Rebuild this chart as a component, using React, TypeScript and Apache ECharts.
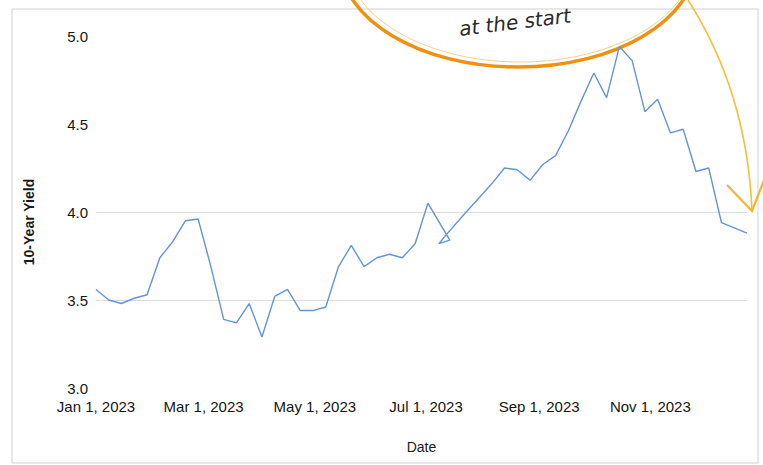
import React, { useEffect, useRef } from "react";
import * as echarts from "echarts";

const dates: string[] = [
  "2023-01-01", "2023-01-08", "2023-01-15", "2023-01-22", "2023-01-29",
  "2023-02-05", "2023-02-12", "2023-02-19", "2023-02-26", "2023-03-05",
  "2023-03-12", "2023-03-19", "2023-03-26", "2023-04-02", "2023-04-09",
  "2023-04-16", "2023-04-23", "2023-04-30", "2023-05-07", "2023-05-14",
  "2023-05-21", "2023-05-28", "2023-06-04", "2023-06-11", "2023-06-18",
  "2023-06-25", "2023-07-02", "2023-07-14", "2023-07-08", "2023-07-12",
  "2023-07-23", "2023-07-30", "2023-08-06", "2023-08-13", "2023-08-20",
  "2023-08-27", "2023-09-03", "2023-09-10", "2023-09-17", "2023-09-24",
  "2023-10-01", "2023-10-08", "2023-10-15", "2023-10-22", "2023-10-29",
  "2023-11-05", "2023-11-12", "2023-11-19", "2023-11-26", "2023-12-03",
  "2023-12-10", "2023-12-17", "2023-12-24",
];

const yields: number[] = [
  3.56, 3.5, 3.48, 3.51, 3.53,
  3.74, 3.83, 3.95, 3.96, 3.69,
  3.39, 3.37, 3.48, 3.29, 3.52,
  3.56, 3.44, 3.44, 3.46, 3.69,
  3.81, 3.69, 3.74, 3.76, 3.74,
  3.82, 4.05, 3.84, 3.82, 3.87,
  4.0, 4.08, 4.16, 4.25, 4.24,
  4.18, 4.27, 4.32, 4.46, 4.63,
  4.79, 4.65, 4.94, 4.86, 4.57,
  4.64, 4.45, 4.47, 4.23, 4.25,
  3.94, 3.91, 3.88,
];

const xTickDates: string[] = [
  "2023-01-01", "2023-03-01", "2023-05-01", "2023-07-01", "2023-09-01", "2023-11-01",
];
const monthNames: string[] = [
  "Jan", "Feb", "Mar", "Apr", "May", "Jun", "Jul", "Aug", "Sep", "Oct", "Nov", "Dec",
];
const yTicks: number[] = [3.0, 3.5, 4.0, 4.5, 5.0];

const toTs = (s: string) => {
  const [y, m, d] = s.split("-").map(Number);
  return Date.UTC(y, m - 1, d);
};
const fmtDate = (v: number) => {
  const d = new Date(v);
  return `${monthNames[d.getUTCMonth()]} ${d.getUTCDate()}, ${d.getUTCFullYear()}`;
};

export default function App() {
  const ref = useRef<HTMLDivElement>(null);
  useEffect(() => {
    if (!ref.current) return;
    const chart = echarts.init(ref.current, null, { renderer: "svg" });
    const data = dates.map((d, i) => [toTs(d), yields[i]]);
    const option: any = {
      animation: false,
      backgroundColor: "#ffffff",
      grid: { left: 96, right: 16, top: 36, bottom: 77, containLabel: false },
      xAxis: {
        type: "value",
        min: toTs(dates[0]),
        max: toTs(dates[dates.length - 1]),
        name: "Date",
        nameLocation: "middle",
        nameGap: 52,
        nameTextStyle: { fontFamily: "Arial, Liberation Sans", fontSize: 14, color: "#1a1a1a" },
        axisLine: { show: false },
        axisTick: { show: false },
        splitLine: { show: false },
        axisLabel: {
          customValues: xTickDates.map(toTs),
          formatter: (v: number) => fmtDate(v),
          fontFamily: "Arial, Liberation Sans",
          fontSize: 15,
          color: "#151515",
          margin: 11,
          hideOverlap: false,
        },
      },
      yAxis: {
        type: "value",
        min: yTicks[0],
        max: yTicks[yTicks.length - 1],
        interval: 0.5,
        name: "10-Year Yield",
        nameLocation: "middle",
        nameGap: 60,
        nameTextStyle: {
          fontFamily: "Arial, Liberation Sans",
          fontSize: 14,
          fontWeight: "bold",
          color: "#1a1a1a",
          padding: [0, 20, 0, 0],
        },
        axisLine: { show: false },
        axisTick: { show: false },
        axisLabel: {
          formatter: (v: number) => v.toFixed(1),
          fontFamily: "Arial, Liberation Sans",
          fontSize: 15,
          color: "#151515",
          margin: 8,
        },
        splitLine: {
          show: true,
          lineStyle: {
            color: ["rgba(0,0,0,0)", "#dcdcdc", "#dcdcdc", "rgba(0,0,0,0)", "rgba(0,0,0,0)"],
            width: 1,
          },
        },
      },
      series: [
        {
          type: "line",
          data,
          showSymbol: false,
          symbol: "none",
          lineStyle: { color: "#6293dc", width: 1.4 },
        },
      ],
      graphic: [
        {
          type: "rect",
          silent: true,
          shape: { x: 12, y: 9, width: 746, height: 454 },
          style: { fill: "none", stroke: "#cfcfcf", lineWidth: 1 },
        },
        {
          type: "ellipse",
          silent: true,
          shape: { cx: 518, cy: -40, rx: 178, ry: 107 },
          style: { fill: "none", stroke: "#f0900f", lineWidth: 3.5 },
        },
        {
          type: "ellipse",
          silent: true,
          shape: { cx: 520, cy: -42, rx: 174, ry: 104 },
          style: { fill: "none", stroke: "#f9cf8a", lineWidth: 1 },
        },
        {
          type: "text",
          silent: true,
          x: 458,
          y: 19,
          rotation: 0.12,
          style: {
            text: "at the start",
            font: "italic 20px 'DejaVu Sans'",
            fill: "#2a2a2a",
          },
        },
        {
          type: "bezierCurve",
          silent: true,
          shape: { x1: 688, y1: 0, cpx1: 720, cpy1: 50, cpx2: 748, cpy2: 120, x2: 752, y2: 210 },
          style: { fill: "none", stroke: "#f5bf3a", lineWidth: 1.6 },
        },
        {
          type: "polyline",
          silent: true,
          shape: { points: [[727, 185], [752, 211], [766, 175]] },
          style: { fill: "none", stroke: "#f5b52a", lineWidth: 2.2 },
        },
      ],
    };
    chart.setOption(option);
    return () => chart.dispose();
  }, []);
  return (
    <div
      ref={ref}
      style={{ position: "fixed", left: 0, top: 0, width: 763, height: 465 }}
    />
  );
}
